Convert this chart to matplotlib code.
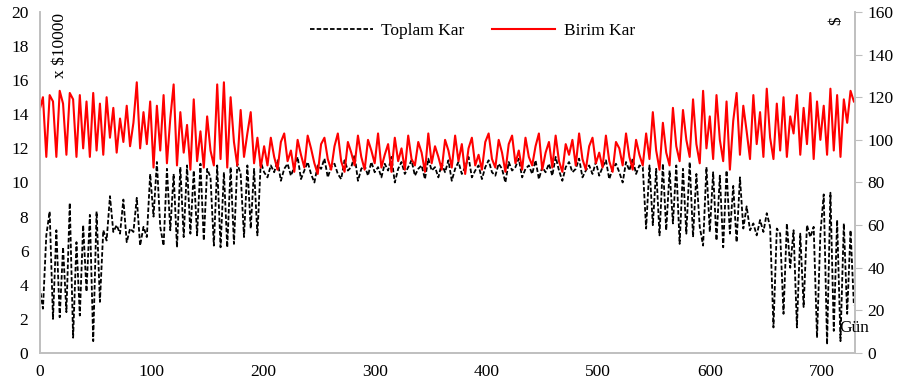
import numpy as np
import matplotlib
matplotlib.use("Agg")
import matplotlib.pyplot as plt

plt.rcParams['font.family'] = ['Liberation Serif', 'DejaVu Serif']

# toplam kar (x $10000), one value every 3 days
toplam_a = [3.9, 2.6, 6.9, 8.3, 2.0, 7.2, 2.1, 6.2, 2.4, 8.8, 0.9, 6.5, 2.2, 7.5, 3.6, 8.1, 0.7,
            8.3, 3.0, 7.2, 6.6, 9.2, 7.1, 7.5, 7.0, 9.0, 6.5, 7.3, 7.1, 9.1, 6.3, 7.4, 6.8, 10.5]
toplam_b = [8.0, 11.2, 7.4, 6.3, 10.8, 7.2, 10.5, 6.2, 10.9, 6.8, 11.0, 7.0, 10.7, 6.9, 11.1, 6.6, 10.8,
            10.3, 6.3, 11.0, 6.2, 10.6, 6.2, 10.9, 6.4, 11.1, 10.5, 6.8, 11.0, 7.3, 10.8, 6.9, 11.2, 10.6]
toplam_c = [10.3, 11.0, 10.6, 11.3, 10.1, 10.8, 11.1, 10.4, 10.9, 11.5, 10.2,
            10.7, 11.2, 10.5, 10.0, 11.0, 10.8, 11.4, 10.3, 10.9, 11.1, 10.5,
            10.2, 11.3, 10.7, 10.9, 11.6, 10.1, 10.8, 11.0, 10.4, 11.2, 10.6,
            10.9, 10.3, 11.1, 10.7, 11.5, 10.0, 10.8, 11.2, 10.5, 10.9, 11.3,
            10.4, 10.8, 11.0, 10.2, 11.4, 10.7, 10.9, 10.3, 11.1, 10.6, 11.3,
            10.1, 10.8, 11.2, 10.5, 10.9, 11.5, 10.3, 10.7, 11.0, 10.2, 10.9,
            11.3, 10.6, 10.4, 11.1, 10.8, 10.0, 11.2, 10.7, 10.9, 11.4, 10.3,
            10.8, 11.0, 10.5, 11.3, 10.2, 10.9, 10.6, 11.1, 10.4, 11.5, 10.7,
            10.1, 10.9, 11.2, 10.6, 10.8, 11.4, 10.3, 10.7, 11.0, 10.5, 11.2,
            10.4, 10.9, 11.3, 10.2, 10.8, 11.1, 10.6, 10.0, 11.2, 10.7, 11.4,
            10.5, 11.0]
toplam_d = [10.9, 7.3, 11.0, 7.5, 10.8, 6.9, 11.1, 7.2, 10.7, 7.6, 11.0, 6.4, 10.8, 7.0, 11.2, 6.8,
            10.5, 7.4, 6.3, 10.9, 7.1, 10.6, 6.6, 10.4, 6.2, 10.7, 7.0, 9.8, 6.5, 10.3, 7.3, 8.6,
            7.2, 7.6, 6.9, 7.8, 7.1, 8.2, 7.4, 1.5, 7.3, 7.0, 2.3, 7.6, 5.0, 7.2, 1.5, 7.0,
            2.7, 7.5, 6.8, 7.4, 0.9, 7.0, 9.3, 0.5, 9.4, 1.3, 7.8, 0.7, 7.6, 2.3, 7.2, 2.8]

# birim kar ($)
birim_a = [114, 120, 92, 121, 118, 92, 123, 117, 93, 122, 119, 92, 121, 96, 118, 92, 122,
           95, 117, 93, 120, 101, 115, 94, 110, 99, 116, 97, 108, 127, 96, 113, 98, 118]
birim_b = [87, 116, 95, 121, 89, 110, 126, 88, 113, 94, 107, 86, 119, 90, 104, 87, 111,
           95, 88, 126, 91, 127, 87, 120, 99, 88, 114, 92, 103, 113, 89, 101, 87, 97]
birim_c = [88, 101, 92, 86, 99, 103, 90, 95, 85, 100, 93,
           87, 102, 96, 89, 84, 98, 101, 91, 86, 97, 103,
           90, 85, 99, 94, 88, 102, 92, 86, 100, 95, 89,
           103, 87, 93, 98, 85, 101, 90, 96, 86, 102, 91,
           88, 99, 94, 85, 103, 89, 97, 92, 86, 100, 95,
           87, 102, 90, 98, 84, 96, 101, 88, 93, 86, 99,
           103, 91, 87, 100, 94, 85, 98, 102, 89, 95, 86,
           101, 92, 88, 97, 103, 86, 94, 99, 87, 102, 90,
           85, 98, 93, 100, 88, 103, 91, 86, 97, 101, 89,
           94, 87, 102, 90, 85, 99, 96, 88, 103, 92, 86,
           100, 93]
birim_d = [88, 103, 91, 113, 95, 86, 108, 94, 88, 115, 97, 90, 114, 100, 92, 119,
           98, 89, 123, 96, 111, 91, 121, 100, 90, 118, 86, 109, 122, 93, 116, 104,
           91, 121, 98, 113, 92, 124, 101, 91, 117, 95, 120, 92, 111, 103, 121, 93,
           115, 98, 122, 91, 118, 100, 116, 93, 124, 95, 121, 92, 119, 108, 123, 118]

toplam = np.array(toplam_a + toplam_b + toplam_c + toplam_d)
birim = np.array(birim_a + birim_b + birim_c + birim_d)
gun = np.arange(len(toplam)) * 3

fig = plt.figure(figsize=(9, 3.85), dpi=100)
ax = fig.add_axes([0.044, 0.083, 0.906, 0.886])
ax2 = ax.twinx()

l1, = ax.plot(gun, toplam, color='black', lw=1.3, ls=(0, (2.5, 1.2)), label='Toplam Kar')
l2, = ax2.plot(gun, birim, color='#ff0000', lw=1.5, label='Birim Kar')

gray = '#bfbfbf'
ax.set_xlim(0, 730)
ax.set_ylim(0, 20)
ax2.set_ylim(0, 160)
ax.set_xticks(range(0, 701, 100))
ax.set_yticks(range(0, 21, 2))
ax2.set_yticks(range(0, 161, 20))

for a in (ax, ax2):
    a.spines['top'].set_visible(False)
    for s in ('left', 'right', 'bottom'):
        a.spines[s].set_color(gray)
        a.spines[s].set_linewidth(1.2)
ax.tick_params(axis='both', length=0, labelsize=12.5, pad=8)
ax2.tick_params(axis='y', length=5, color=gray, labelsize=12.5, pad=4)

fig.text(0.067, 0.965, 'x $10000', rotation=90, ha='center', va='top', fontsize=12.5)
fig.text(0.929, 0.945, '$', rotation=90, ha='center', va='center', fontsize=12.5)
fig.text(0.949, 0.148, 'Gün', ha='center', va='center', fontsize=12.5)

fig.legend(handles=[l1, l2], loc='center', bbox_to_anchor=(0.525, 0.92), ncol=2,
           frameon=False, fontsize=12.5, handlelength=3.6, handletextpad=0.5,
           columnspacing=1.6)

fig.savefig('out.png', dpi=100)
